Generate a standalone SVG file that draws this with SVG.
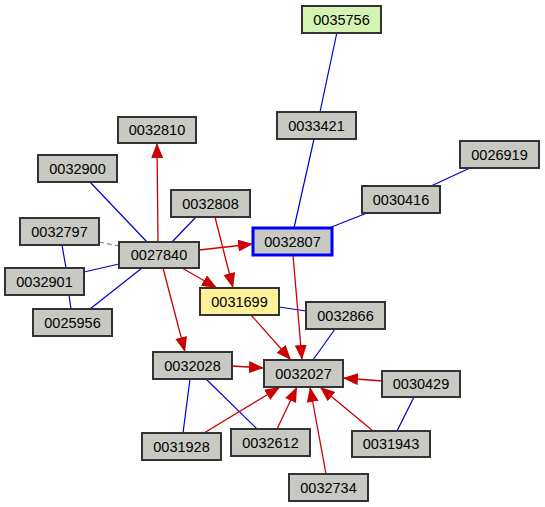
<svg xmlns="http://www.w3.org/2000/svg" width="545" height="507" viewBox="0 0 545 507">
<style>
.n rect{fill:#c8c9c3;stroke:#333;stroke-width:2}
.n text{font-family:"Liberation Sans",Arial,sans-serif;font-size:14.5px;text-anchor:middle;fill:#000}
.b{stroke:#0000cc;stroke-width:1.2;fill:none}
.r{stroke:#cc0000;stroke-width:1.3;fill:none;marker-end:url(#ah)}
.g{stroke:#888;stroke-width:1.2;stroke-dasharray:5,3;fill:none}
</style>
<defs>
<marker id="ah" markerUnits="userSpaceOnUse" markerWidth="16" markerHeight="13" refX="15" refY="6" orient="auto">
<path d="M0,0 L15,6 L0,12 Z" fill="#cc0000"/>
</marker>
</defs>
<rect width="545" height="507" fill="#fff"/>
<g id="connectors">
<line class="b" x1="337" y1="32" x2="320" y2="112"/>
<line class="b" x1="314" y1="139" x2="294" y2="228"/>
<line class="b" x1="470" y1="168" x2="431" y2="186"/>
<line class="b" x1="367" y1="213" x2="329" y2="228"/>
<line class="b" x1="90" y1="182" x2="147" y2="242"/>
<line class="b" x1="196" y1="217" x2="172" y2="242"/>
<line class="g" x1="99" y1="242" x2="119" y2="246"/>
<line class="b" x1="62" y1="245" x2="66" y2="268"/>
<line class="b" x1="84" y1="272" x2="119" y2="264"/>
<line class="b" x1="69" y1="295" x2="71" y2="309"/>
<line class="b" x1="90" y1="309" x2="142" y2="268"/>
<line class="b" x1="279" y1="307" x2="306" y2="311"/>
<line class="b" x1="335" y1="329" x2="313" y2="360"/>
<line class="b" x1="190" y1="379" x2="183" y2="433"/>
<line class="b" x1="206" y1="379" x2="257" y2="429"/>
<line class="b" x1="414" y1="397" x2="397" y2="431"/>
<line class="r" x1="158" y1="242" x2="157" y2="143"/>
<line class="r" x1="199" y1="250" x2="253" y2="244"/>
<line class="r" x1="182" y1="268" x2="217" y2="288"/>
<line class="r" x1="215" y1="217" x2="233" y2="288"/>
<line class="r" x1="163" y1="268" x2="185" y2="352"/>
<line class="r" x1="293" y1="255" x2="302" y2="360"/>
<line class="r" x1="251" y1="315" x2="291" y2="360"/>
<line class="r" x1="232" y1="366" x2="264" y2="368"/>
<line class="r" x1="382" y1="381" x2="343" y2="378"/>
<line class="r" x1="204" y1="433" x2="280" y2="387"/>
<line class="r" x1="277" y1="429" x2="297" y2="387"/>
<line class="r" x1="326" y1="474" x2="310" y2="387"/>
<line class="r" x1="373" y1="431" x2="320" y2="387"/>
</g>
<g id="n0035756" class="n"><rect x="302" y="6" width="79" height="27" style="fill:#d4f5b2"/><text x="341.5" y="24.5">0035756</text></g>
<g id="n0033421" class="n"><rect x="277" y="112" width="79" height="27"/><text x="316.5" y="130.5">0033421</text></g>
<g id="n0026919" class="n"><rect x="460" y="141" width="79" height="27"/><text x="499.5" y="159.5">0026919</text></g>
<g id="n0032810" class="n"><rect x="118" y="117" width="78" height="26"/><text x="157" y="135">0032810</text></g>
<g id="n0032900" class="n"><rect x="38" y="155" width="79" height="27"/><text x="77.5" y="173.5">0032900</text></g>
<g id="n0032808" class="n"><rect x="171" y="190" width="79" height="27"/><text x="210.5" y="208.5">0032808</text></g>
<g id="n0030416" class="n"><rect x="362" y="186" width="78" height="27"/><text x="401" y="204.5">0030416</text></g>
<g id="n0032797" class="n"><rect x="20" y="218" width="79" height="27"/><text x="59.5" y="236.5">0032797</text></g>
<g id="n0027840" class="n"><rect x="119" y="242" width="80" height="26"/><text x="159" y="260">0027840</text></g>
<g id="n0032901" class="n"><rect x="5" y="268" width="79" height="27"/><text x="44.5" y="286.5">0032901</text></g>
<g id="n0025956" class="n"><rect x="33" y="309" width="79" height="27"/><text x="72.5" y="327.5">0025956</text></g>
<g id="n0032807" class="n"><rect x="253" y="228" width="79" height="27" style="stroke:#0000ff;stroke-width:3"/><text x="292.5" y="246.5">0032807</text></g>
<g id="n0031699" class="n"><rect x="200" y="288" width="79" height="27" style="fill:#fff199"/><text x="239.5" y="306.5">0031699</text></g>
<g id="n0032866" class="n"><rect x="306" y="302" width="79" height="27"/><text x="345.5" y="320.5">0032866</text></g>
<g id="n0032028" class="n"><rect x="153" y="352" width="79" height="27"/><text x="192.5" y="370.5">0032028</text></g>
<g id="n0032027" class="n"><rect x="264" y="360" width="79" height="27"/><text x="303.5" y="378.5">0032027</text></g>
<g id="n0030429" class="n"><rect x="382" y="371" width="78" height="26"/><text x="421" y="389">0030429</text></g>
<g id="n0031928" class="n"><rect x="142" y="433" width="79" height="27"/><text x="181.5" y="451.5">0031928</text></g>
<g id="n0032612" class="n"><rect x="231" y="429" width="79" height="27"/><text x="270.5" y="447.5">0032612</text></g>
<g id="n0031943" class="n"><rect x="352" y="431" width="78" height="26"/><text x="391" y="449">0031943</text></g>
<g id="n0032734" class="n"><rect x="289" y="474" width="79" height="27"/><text x="328.5" y="492.5">0032734</text></g>
</svg>
